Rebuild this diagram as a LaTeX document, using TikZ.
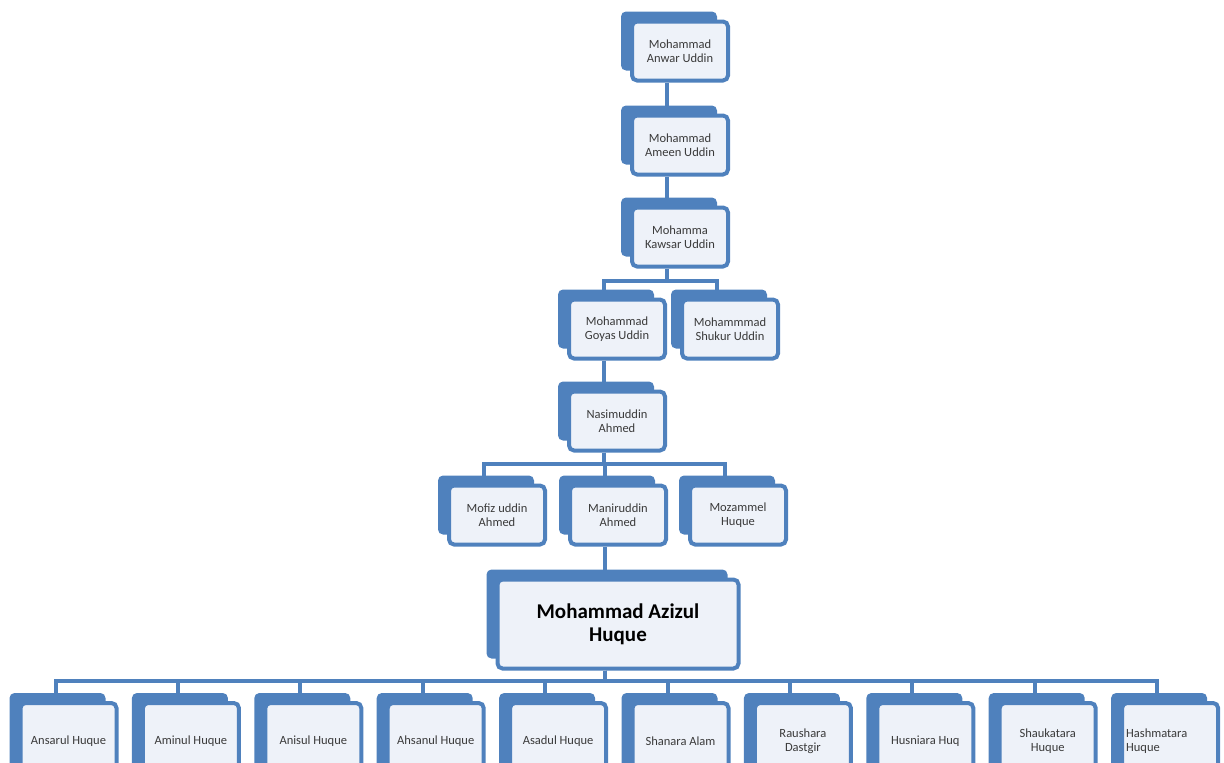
\documentclass[tikz,border=0pt]{standalone}
\usepackage{fontspec}
\setmainfont{Carlito}
\usepackage{xcolor}
\usepackage{tikz}
\usetikzlibrary{positioning,shadows,backgrounds}
\definecolor{boxblue}{HTML}{4F81BD}
\definecolor{boxfill}{HTML}{EEF2F9}
\definecolor{boxtext}{HTML}{3A3A3A}
\tikzset{
  pbox/.style={draw=boxblue, line width=4pt, rounded corners=5pt, fill=boxfill, align=center, minimum width=96pt, minimum height=59pt, inner sep=3pt, text=boxtext, font=\fontsize{12.5}{14}\selectfont, general shadow={fill=boxblue, shadow xshift=-11pt, shadow yshift=10pt}},
  pboxlow/.style={pbox, minimum height=76pt},
  pboxmain/.style={pbox, minimum width=241pt, minimum height=89pt, text=black, font=\fontsize{21}{23}\selectfont\bfseries},
  plink/.style={draw=boxblue, line width=4pt}
}

\begin{document}
\begin{tikzpicture}[x=1pt, y=-1pt]
\useasboundingbox (0,0) rectangle (1224,763);

\node[pbox] (anwar) at (680,51) {Mohammad\\Anwar Uddin};
\node[pbox] (ameen) at (680,145) {Mohammad\\Ameen Uddin};
\node[pbox] (kawsar) at (680,237) {Mohamma\\Kawsar Uddin};
\node[pbox] (goyas) at (617,329) {Mohammad\\Goyas Uddin};
\node[pbox, right=13pt of goyas] (shukur) {Mohammmad\\Shukur Uddin};
\node[pbox] (nasim) at (617,421) {Nasimuddin\\Ahmed};
\node[pbox] (manir) at (618,515) {Maniruddin\\Ahmed};
\node[pbox, left=21pt of manir] (mofiz) {Mofiz uddin\\Ahmed};
\node[pbox, right=20pt of manir] (mozam) {Mozammel\\Huque};
\node[pboxmain] (aziz) at (618,624) {Mohammad Azizul\\Huque};

\node[pboxlow] (ansarul) at (68.5,741) {Ansarul Huque};
\node[pboxlow, right=22.4pt of ansarul] (aminul) {Aminul Huque};
\node[pboxlow, right=22.4pt of aminul] (anisul) {Anisul Huque};
\node[pboxlow, right=22.4pt of anisul] (ahsanul) {Ahsanul Huque};
\node[pboxlow, right=22.4pt of ahsanul] (asadul) {Asadul Huque};
\node[pboxlow, right=22.4pt of asadul] (shanara) {Shanara Alam};
\node[pboxlow, right=22.4pt of shanara] (raushara) {Raushara\\Dastgir};
\node[pboxlow, right=22.4pt of raushara] (husniara) {Husniara Huq};
\node[pboxlow, right=22.4pt of husniara] (shaukatara) {Shaukatara\\Huque};
\node[pboxlow, right=22.4pt of shaukatara, align=left, text width=88pt] (hashmatara) {Hashmatara\\Huque};

\begin{scope}[on background layer]
\draw[plink] ([xshift=-13pt]anwar.south) -- ([xshift=-13pt]ameen.north);
\draw[plink] ([xshift=-13pt]ameen.south) -- ([xshift=-13pt]kawsar.north);
\draw[plink] ([xshift=-13pt]kawsar.south) -- ++(0,12) -| ([xshift=-13pt]goyas.north);
\draw[plink] ([xshift=-13pt]kawsar.south) -- ++(0,12) -| ([xshift=-13pt]shukur.north);
\draw[plink] ([xshift=-13pt]goyas.south) -- ([xshift=-13pt]nasim.north);
\draw[plink] ([xshift=-13pt]nasim.south) -- ++(0,11) -| ([xshift=-13pt]mofiz.north);
\draw[plink] ([xshift=-13pt]nasim.south) -- ++(0,11) -| ([xshift=-13pt]manir.north);
\draw[plink] ([xshift=-13pt]nasim.south) -- ++(0,11) -| ([xshift=-13pt]mozam.north);
\draw[plink] ([xshift=-13pt]manir.south) -- ([xshift=-13pt]aziz.north);

% ten children on one bus
\draw[plink] ([xshift=-13pt]aziz.south) -- ++(0,10) -| ([xshift=-13pt]ansarul.north);
\draw[plink] ([xshift=-13pt]aziz.south) -- ++(0,10) -| ([xshift=-13pt]aminul.north);
\draw[plink] ([xshift=-13pt]aziz.south) -- ++(0,10) -| ([xshift=-13pt]anisul.north);
\draw[plink] ([xshift=-13pt]aziz.south) -- ++(0,10) -| ([xshift=-13pt]ahsanul.north);
\draw[plink] ([xshift=-13pt]aziz.south) -- ++(0,10) -| ([xshift=-13pt]asadul.north);
\draw[plink] ([xshift=-13pt]aziz.south) -- ++(0,10) -| ([xshift=-13pt]shanara.north);
\draw[plink] ([xshift=-13pt]aziz.south) -- ++(0,10) -| ([xshift=-13pt]raushara.north);
\draw[plink] ([xshift=-13pt]aziz.south) -- ++(0,10) -| ([xshift=-13pt]husniara.north);
\draw[plink] ([xshift=-13pt]aziz.south) -- ++(0,10) -| ([xshift=-13pt]shaukatara.north);
\draw[plink] ([xshift=-13pt]aziz.south) -- ++(0,10) -| ([xshift=-13pt]hashmatara.north);
\end{scope}
\end{tikzpicture}
\end{document}
